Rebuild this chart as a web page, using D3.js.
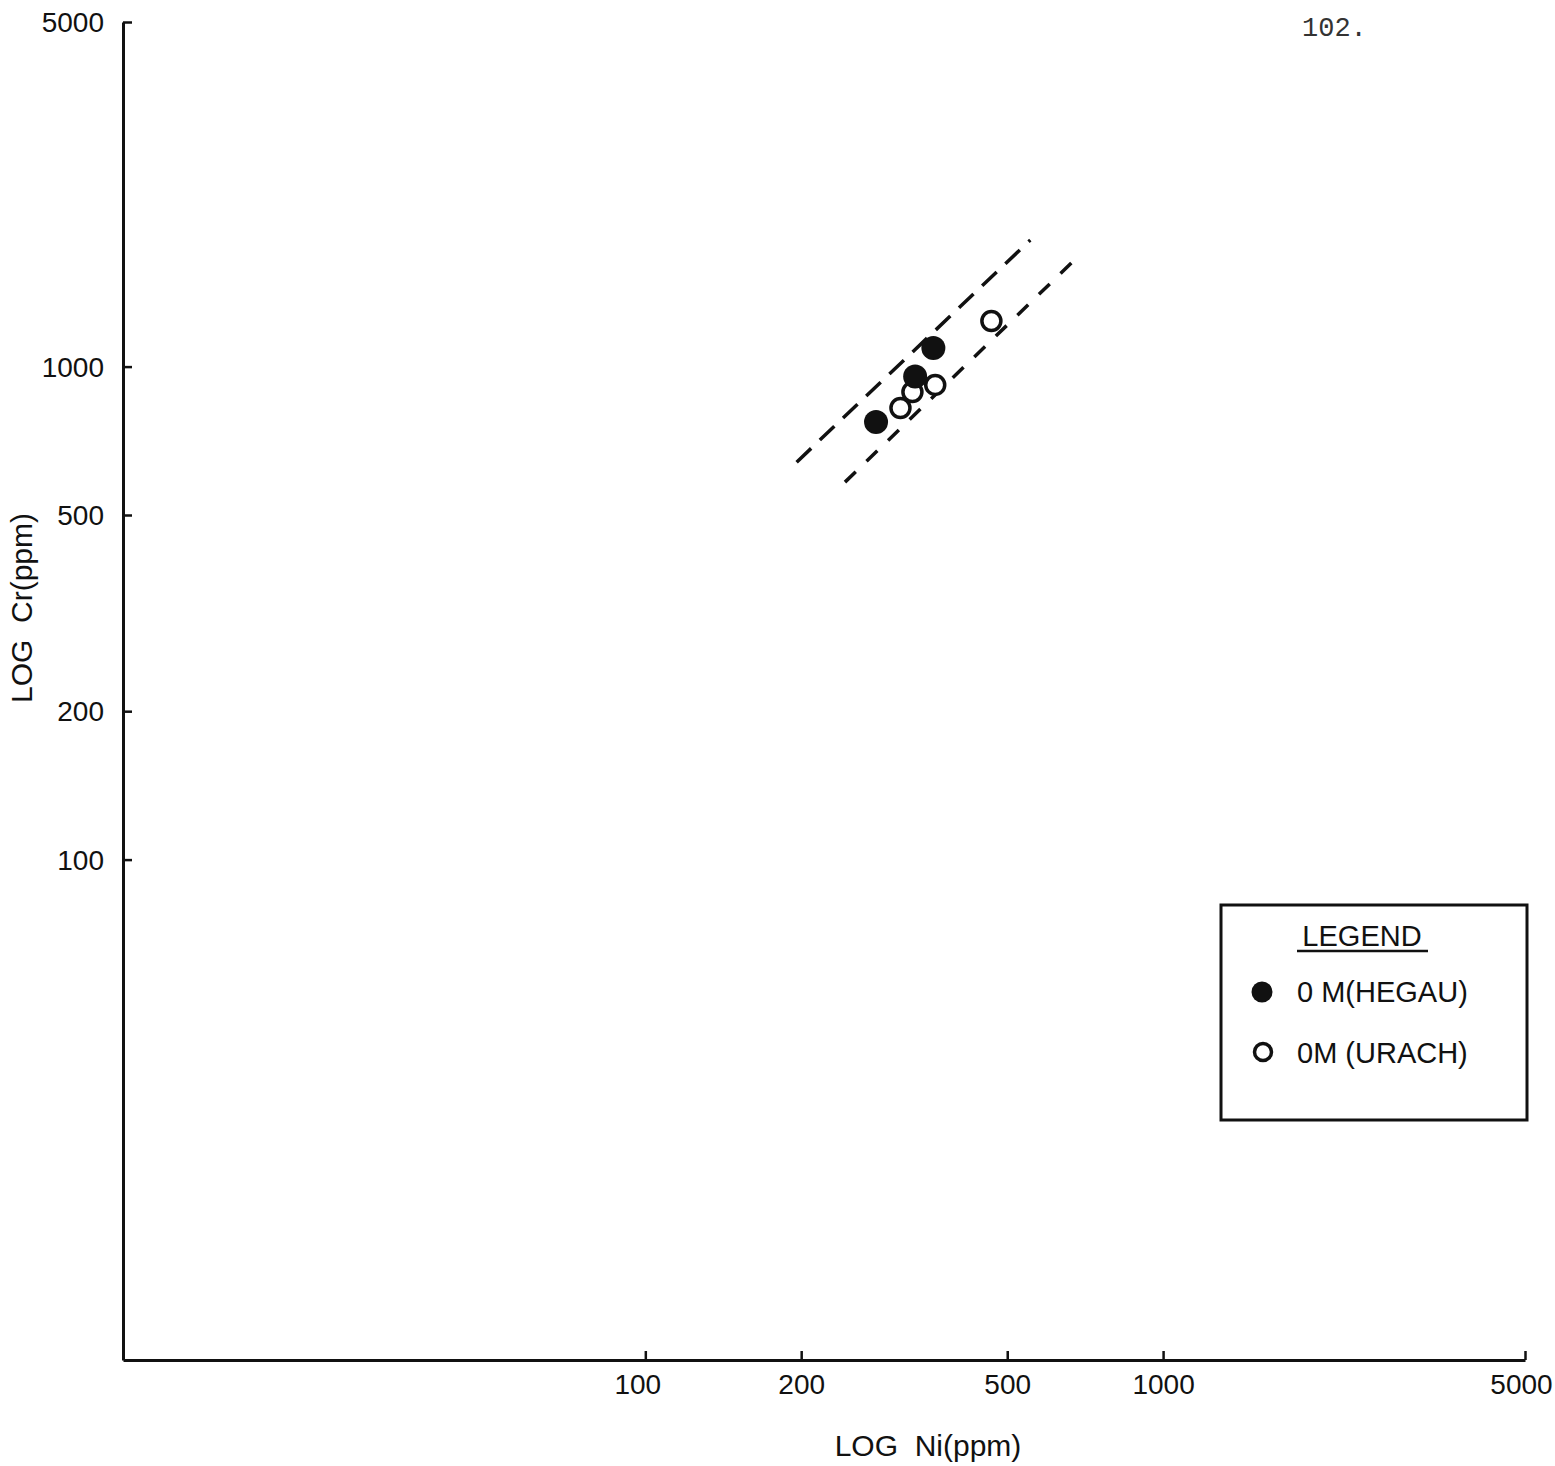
<!DOCTYPE html>
<html>
<head>
<meta charset="utf-8">
<script src="https://cdn.jsdelivr.net/npm/d3@7"></script>
<style>
  html, body { margin: 0; padding: 0; background: #fff; }
  svg { display: block; }
  .lbl { font-family: "Liberation Sans", "DejaVu Sans", sans-serif; fill: #111; }
</style>
</head>
<body>
<svg id="chart" width="1555" height="1466"></svg>
<script>
// Ni and Cr contents (ppm) of the two olivine melilitite groups
const hegauNi = [279, 332, 360];
const hegauCr = [772, 955, 1091];
const urachNi = [311, 328, 363, 466];
const urachCr = [824, 888, 918, 1237];

// dashed band enclosing the trend: [Ni, Cr] end points
const upperBandNi = [196, 554];
const upperBandCr = [640, 1806];
const lowerBandNi = [243, 668];
const lowerBandCr = [583, 1630];

const xTicks = [100, 200, 500, 1000, 5000];
const yTicks = [100, 200, 500, 1000, 5000];
const legendLabels = ["0 M(HEGAU)", "0M (URACH)"];

const ink = "#111";
const svg = d3.select("#chart");

const x = d3.scaleLog().domain([9.8, 5000]).range([123, 1525]);
const y = d3.scaleLog().domain([9.66, 5000]).range([1360, 22]);

// axes: ticks point into the plot
const xAxis = d3.axisBottom(x).tickValues(xTicks).tickFormat(d3.format("d"))
  .tickSizeInner(-9).tickSizeOuter(0).tickPadding(14);
const yAxis = d3.axisLeft(y).tickValues(yTicks).tickFormat(d3.format("d"))
  .tickSizeInner(-9).tickSizeOuter(0).tickPadding(19);

const gx = svg.append("g").attr("transform", "translate(0,1360)").call(xAxis);
const gy = svg.append("g").attr("transform", "translate(123,0)").call(yAxis);

[gx, gy].forEach(g => {
  g.selectAll("path.domain").attr("stroke", ink).attr("stroke-width", 3);
  g.selectAll(".tick line").attr("stroke", ink).attr("stroke-width", 2.5);
  g.selectAll(".tick text").attr("class", "lbl").attr("font-size", 28).attr("fill", ink);
});
gx.selectAll(".tick text").attr("dy", "0.71em")
  .attr("dx", d => d === 100 ? -8 : (d === 5000 ? -4 : 0));
gy.selectAll(".tick text").attr("dy", "0.35em");

// axis titles
svg.append("text").attr("class", "lbl").attr("font-size", 30)
  .attr("x", 928).attr("y", 1456).attr("text-anchor", "middle")
  .attr("xml:space", "preserve").text("LOG  Ni(ppm)");
svg.append("text").attr("class", "lbl").attr("font-size", 30)
  .attr("transform", "translate(32,608) rotate(-90)").attr("text-anchor", "middle")
  .attr("xml:space", "preserve").text("LOG  Cr(ppm)");

// page number
svg.append("text").attr("x", 1302).attr("y", 36)
  .attr("font-family", "Liberation Mono, monospace").attr("font-size", 27)
  .attr("fill", "#333").text("102.");

// dashed trend band
const bandLine = d3.line().x(d => x(d[0])).y(d => y(d[1]));
svg.append("path")
  .attr("d", bandLine(d3.zip(upperBandNi, upperBandCr)))
  .attr("stroke", ink).attr("stroke-width", 3.5).attr("fill", "none")
  .attr("stroke-dasharray", "20 12");
svg.append("path")
  .attr("d", bandLine(d3.zip(lowerBandNi, lowerBandCr)))
  .attr("stroke", ink).attr("stroke-width", 3.5).attr("fill", "none")
  .attr("stroke-dasharray", "15 15");

// samples
svg.append("g").selectAll("circle")
  .data(d3.zip(urachNi, urachCr)).join("circle")
  .attr("cx", d => x(d[0])).attr("cy", d => y(d[1])).attr("r", 9.5)
  .attr("fill", "#fff").attr("stroke", ink).attr("stroke-width", 3.5);
svg.append("g").selectAll("circle")
  .data(d3.zip(hegauNi, hegauCr)).join("circle")
  .attr("cx", d => x(d[0])).attr("cy", d => y(d[1])).attr("r", 12)
  .attr("fill", ink);

// legend
const lg = svg.append("g");
lg.append("rect").attr("x", 1221).attr("y", 905).attr("width", 306).attr("height", 215)
  .attr("fill", "none").attr("stroke", ink).attr("stroke-width", 3);
lg.append("text").attr("class", "lbl").attr("font-size", 29)
  .attr("x", 1362).attr("y", 946).attr("text-anchor", "middle").text("LEGEND");
lg.append("line").attr("x1", 1297).attr("x2", 1428).attr("y1", 951).attr("y2", 951)
  .attr("stroke", ink).attr("stroke-width", 2.5);
lg.append("circle").attr("cx", 1262).attr("cy", 992).attr("r", 10.5).attr("fill", ink);
lg.append("circle").attr("cx", 1263).attr("cy", 1052).attr("r", 8.5)
  .attr("fill", "#fff").attr("stroke", ink).attr("stroke-width", 3.5);
lg.selectAll("text.item").data(legendLabels).join("text")
  .attr("class", "lbl item").attr("font-size", 29)
  .attr("x", 1297).attr("y", (d, i) => 1002 + i * 61)
  .attr("xml:space", "preserve").text(d => d);
</script>
</body>
</html>
